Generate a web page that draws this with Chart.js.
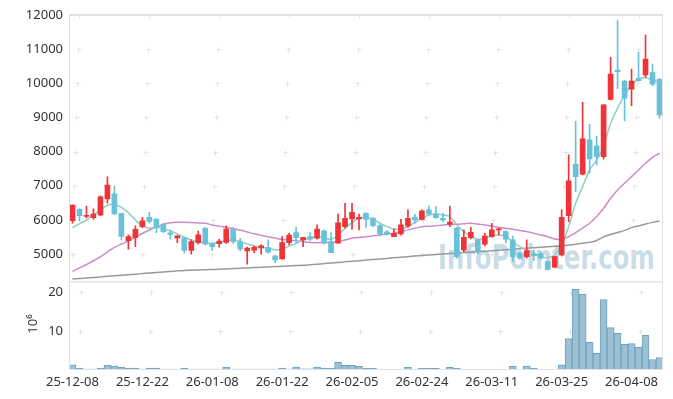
<!DOCTYPE html>
<html>
<head>
<meta charset="utf-8">
<script src="https://cdn.jsdelivr.net/npm/chart.js@4"></script>
<style>
  html, body { margin: 0; padding: 0; background: #fff; }
  canvas { display: block; }
</style>
</head>
<body>
<canvas id="myChart" width="673" height="399"></canvas>
<script>
var dates = ['25-12-08', '25-12-09', '25-12-10', '25-12-11', '25-12-12', '25-12-15', '25-12-16', '25-12-17', '25-12-18', '25-12-19',
    '25-12-22', '25-12-23', '25-12-24', '25-12-26', '25-12-29', '25-12-30', '26-01-02', '26-01-05', '26-01-06', '26-01-07',
    '26-01-08', '26-01-09', '26-01-12', '26-01-13', '26-01-14', '26-01-15', '26-01-16', '26-01-19', '26-01-20', '26-01-21',
    '26-01-22', '26-01-23', '26-01-26', '26-01-27', '26-01-28', '26-01-29', '26-01-30', '26-02-02', '26-02-03', '26-02-04',
    '26-02-05', '26-02-06', '26-02-09', '26-02-10', '26-02-11', '26-02-12', '26-02-13', '26-02-19', '26-02-20', '26-02-23',
    '26-02-24', '26-02-25', '26-02-26', '26-02-27', '26-03-03', '26-03-04', '26-03-05', '26-03-06', '26-03-09', '26-03-10',
    '26-03-11', '26-03-12', '26-03-13', '26-03-16', '26-03-17', '26-03-18', '26-03-19', '26-03-20', '26-03-23', '26-03-24',
    '26-03-25', '26-03-26', '26-03-27', '26-03-30', '26-03-31', '26-04-01', '26-04-02', '26-04-03', '26-04-06', '26-04-07',
    '26-04-08', '26-04-09', '26-04-10', '26-04-13', '26-04-14'];

var openP = [5975, 6310, 6100, 6060, 6140, 6610, 6760, 6190, 5390, 5480,
    5800, 6075, 6020, 5850, 5620, 5470, 5470, 5100, 5330, 5750,
    5310, 5300, 5340, 5720, 5360, 5090, 5110, 5175, 5185, 4940,
    4855, 5330, 5625, 5410, 5505, 5460, 5675, 5360, 5315, 5800,
    6025, 6025, 6190, 6045, 5830, 5645, 5505, 5585, 5820, 6075,
    6015, 6290, 6170, 6045, 5870, 5755, 5115, 5480, 5410, 5285,
    5505, 5705, 5655, 5410, 5020, 4920, 5000, 5000, 4775, 4610,
    4970, 6120, 7635, 7335, 8340, 8165, 7850, 9530, 10390, 10065,
    9825, 10145, 10245, 10310, 10115];
var highP = [6440, 6330, 6400, 6320, 6700, 7260, 6990, 6190, 5560, 5820,
    6075, 6220, 6030, 5900, 5700, 5530, 5480, 5410, 5670, 5780,
    5320, 5430, 5820, 5780, 5460, 5200, 5235, 5265, 5410, 4970,
    5505, 5605, 5780, 5490, 5625, 5850, 5705, 5625, 6170, 6485,
    6485, 6165, 6210, 6075, 5860, 5685, 5725, 6015, 6290, 6170,
    6290, 6405, 6385, 6190, 6405, 5780, 5705, 5780, 5430, 5605,
    5900, 5755, 5685, 5525, 5065, 5410, 5115, 5065, 4790, 4930,
    6290, 7900, 8895, 9445, 8800, 8455, 9365, 10760, 11835, 10095,
    10410, 10910, 11415, 10565, 10145];
var lowP = [5900, 5970, 6050, 6015, 6120, 6490, 6140, 5410, 5140, 5210,
    5770, 5900, 5620, 5620, 5430, 5330, 5020, 4990, 5285, 5265,
    5100, 5200, 5310, 5310, 5090, 4700, 5040, 4990, 5020, 4745,
    4845, 5265, 5345, 5215, 5390, 5430, 5285, 5040, 5315, 5755,
    5725, 5705, 5780, 5800, 5530, 5555, 5505, 5550, 5780, 5900,
    5995, 6115, 6045, 5945, 5800, 4875, 5065, 5440, 4990, 5235,
    5490, 5555, 5330, 4775, 4845, 4875, 4805, 4845, 4530, 4600,
    4940, 5945, 6825, 7315, 7360, 7605, 7775, 9510, 9845, 8895,
    9345, 10065, 10175, 9920, 8975];
var closeP = [6435, 6120, 6130, 6170, 6670, 7020, 6170, 5510, 5510, 5720,
    5970, 5950, 5800, 5650, 5570, 5530, 5100, 5360, 5560, 5290,
    5215, 5380, 5730, 5360, 5145, 5170, 5195, 5235, 5050, 4825,
    5330, 5555, 5480, 5490, 5430, 5725, 5330, 5040, 5910, 6045,
    6220, 6075, 6015, 5830, 5585, 5585, 5605, 5850, 6045, 5995,
    6260, 6170, 6065, 5995, 5935, 4920, 5490, 5635, 5065, 5525,
    5705, 5730, 5430, 4920, 4875, 5095, 4950, 4875, 4550, 4920,
    6075, 7140, 7265, 8370, 7785, 7850, 9365, 10270, 10340, 9560,
    10065, 10075, 10705, 9970, 9070];

var ma5 = [5765, 5890, 5990, 6140, 6290, 6425, 6450, 6365, 6210, 5995,
    5820, 5755, 5780, 5725, 5675, 5585, 5490, 5410, 5360, 5315,
    5313, 5345, 5390, 5410, 5360, 5295, 5235, 5195, 5165, 5120,
    5140, 5235, 5315, 5410, 5460, 5505, 5480, 5430, 5555, 5750,
    5915, 6045, 6075, 6015, 5900, 5800, 5730, 5725, 5800, 5920,
    6045, 6140, 6170, 6140, 6095, 5850, 5655, 5505, 5430, 5460,
    5525, 5555, 5505, 5360, 5215, 5115, 5020, 4920, 4895, 4970,
    5265, 5800, 6485, 6970, 7460, 7750, 8145, 8830, 9265, 9655,
    9950, 10115, 10165, 10095, 10020];
var ma20 = [4490, 4590, 4690, 4800, 4920, 5060, 5190, 5290, 5380, 5490,
    5600, 5700, 5790, 5860, 5915, 5930, 5930, 5920, 5910, 5900,
    5850, 5815, 5780, 5740, 5700, 5645, 5590, 5545, 5505, 5465,
    5430, 5410, 5390, 5360, 5335, 5330, 5330, 5340, 5360, 5410,
    5460, 5485, 5505, 5530, 5555, 5580, 5605, 5655, 5705, 5750,
    5800, 5810, 5825, 5850, 5860, 5870, 5885, 5900, 5875, 5850,
    5815, 5780, 5750, 5720, 5690, 5655, 5605, 5555, 5505, 5440,
    5430, 5505, 5625, 5755, 5900, 6095, 6340, 6630, 6875, 7070,
    7265, 7460, 7655, 7830, 7950];
var ma120 = [4265, 4280, 4296, 4312, 4328, 4344, 4360, 4376, 4392, 4408,
    4424, 4440, 4456, 4472, 4488, 4504, 4518, 4525, 4532, 4538,
    4544, 4550, 4560, 4570, 4580, 4590, 4600, 4610, 4620, 4630,
    4640, 4650, 4658, 4666, 4683, 4700, 4717, 4734, 4751, 4768,
    4785, 4802, 4819, 4836, 4853, 4870, 4887, 4904, 4921, 4938,
    4955, 4969, 4983, 4997, 5011, 5025, 5039, 5053, 5067, 5081,
    5095, 5109, 5123, 5137, 5151, 5165, 5180, 5195, 5210, 5222,
    5235, 5260, 5285, 5312, 5340, 5395, 5500, 5570, 5630, 5690,
    5770, 5820, 5875, 5925, 5965];

// volume, millions of shares
var volume = [1.3, 0.5, 0.25, 0.25, 0.5, 1.2, 1.0, 0.77, 0.5, 0.5,
    0.25, 0.5, 0.5, 0.25, 0.25, 0.08, 0.5, 0.25, 0.25, 0.25,
    0.25, 0.25, 0.77, 0.25, 0.25, 0.25, 0.25, 0.25, 0.25, 0.25,
    0.5, 0.25, 0.77, 0.3, 0.3, 0.77, 0.5, 0.45, 2.0, 1.2,
    1.2, 0.95, 0.45, 0.45, 0.2, 0.06, 0.2, 0.2, 0.7, 0.2,
    0.45, 0.45, 0.45, 0.2, 0.7, 0.45, 0.2, 0.2, 0.2, 0.2,
    0.2, 0.06, 0.2, 1.0, 0.2, 1.0, 0.45, 0.2, 0.2, 0.2,
    1.3, 8.1, 20.7, 19.5, 7.1, 4.3, 18.1, 10.9, 9.4, 6.6,
    6.8, 5.8, 8.9, 2.7, 3.2];

var xTickLabels = ['25-12-08', '25-12-22', '26-01-08', '26-01-22', '26-02-05', '26-02-24', '26-03-11', '26-03-25', '26-04-08'];
var priceTicks = [5000, 6000, 7000, 8000, 9000, 10000, 11000, 12000];
var volTicks = [10, 20];

var UP = '#ee3438';
var DOWN = '#68c1d9';
var candleColors = openP.map(function (o, i) { return closeP[i] >= o ? UP : DOWN; });

var frame = {
    id: 'frame',
    beforeDatasetsDraw: function (chart) {
        var c = chart.ctx;
        var x = chart.scales.x, y = chart.scales.y, yv = chart.scales.yv;
        c.save();
        // watermark
        c.font = 'bold 33px "DejaVu Sans", sans-serif';
        c.fillStyle = 'rgba(165, 198, 216, 0.6)';
        c.textBaseline = 'alphabetic';
        c.fillText('InfoPointer.com', 438, 269, 217);
        // small grid crosses
        c.strokeStyle = '#e3e3e3';
        c.lineWidth = 1;
        var xs = x.ticks.map(function (t, i) { return x.getPixelForTick(i); });
        var ys = y.ticks.map(function (t, i) { return y.getPixelForTick(i); })
            .concat(yv.ticks.map(function (t, i) { return yv.getPixelForTick(i); }));
        c.beginPath();
        xs.forEach(function (px) {
            ys.forEach(function (py) {
                px = Math.round(px) + 0.5; py = Math.round(py) + 0.5;
                c.moveTo(px - 2, py); c.lineTo(px + 3, py);
                c.moveTo(px, py - 2); c.lineTo(px, py + 3);
            });
        });
        c.stroke();
        c.restore();
    },
    afterDraw: function (chart) {
        var c = chart.ctx, a = chart.chartArea;
        var y = chart.scales.y, yv = chart.scales.yv;
        c.save();
        c.strokeStyle = '#e2e2e2';
        c.lineWidth = 1;
        c.strokeRect(a.left + 0.5, y.top + 0.5, a.right - a.left - 1, y.bottom - y.top);
        c.strokeRect(a.left + 0.5, yv.top + 0.5, a.right - a.left - 1, yv.bottom - yv.top - 1);
        c.lineWidth = 2;
        c.beginPath();
        c.moveTo(a.left, y.top); c.lineTo(a.right, y.top);
        c.stroke();
        // unit label of the volume axis
        c.fillStyle = '#333';
        c.font = '13px "Noto Sans", sans-serif';
        c.translate(33, 324);
        c.rotate(-Math.PI / 2);
        c.textAlign = 'center';
        c.textBaseline = 'middle';
        c.fillText('10\u2076', 0, 0);
        c.restore();
    }
};

var tickFont = { family: '"Noto Sans", sans-serif', size: 13 };
var plain = function (v) { return String(v); };

var ctx = document.getElementById('myChart').getContext('2d');
var myChart = new Chart(ctx, {
    type: 'bar',
    data: {
        labels: dates,
        datasets: [{
            label: 'wick',
            data: lowP.map(function (l, i) { return [l, highP[i]]; }),
            backgroundColor: candleColors,
            barThickness: 1,
            grouped: false,
            yAxisID: 'y',
            order: 1
        }, {
            label: 'body',
            data: openP.map(function (o, i) { return [o, closeP[i]]; }),
            backgroundColor: candleColors,
            barThickness: 5,
            minBarLength: 1,
            grouped: false,
            yAxisID: 'y',
            order: 0
        }, {
            type: 'line',
            label: 'MA5',
            data: ma5,
            borderColor: '#8fcfc2',
            borderWidth: 1.5,
            pointRadius: 0,
            tension: 0.4,
            yAxisID: 'y',
            order: 3
        }, {
            type: 'line',
            label: 'MA20',
            data: ma20,
            borderColor: '#cd8cc6',
            borderWidth: 1.5,
            pointRadius: 0,
            tension: 0.4,
            yAxisID: 'y',
            order: 3
        }, {
            type: 'line',
            label: 'MA120',
            data: ma120,
            borderColor: '#9a9a9a',
            borderWidth: 1.5,
            pointRadius: 0,
            tension: 0.4,
            yAxisID: 'y',
            order: 3
        }, {
            label: 'volume',
            data: volume,
            backgroundColor: '#9dc1d3',
            borderColor: '#6aa2c2',
            borderWidth: 1,
            barPercentage: 1,
            categoryPercentage: 1,
            grouped: false,
            yAxisID: 'yv',
            order: 2
        }]
    },
    options: {
        responsive: false,
        animation: false,
        layout: { padding: { top: 15, right: 10, left: 0, bottom: 0 } },
        plugins: { legend: { display: false }, tooltip: { enabled: false } },
        scales: {
            x: {
                grid: { display: false, drawTicks: false },
                border: { display: false },
                ticks: { autoSkip: false, maxRotation: 0, color: '#333', font: tickFont, padding: 4 },
                afterBuildTicks: function (s) {
                    s.ticks = s.ticks.filter(function (t) { return xTickLabels.indexOf(dates[t.value]) >= 0; });
                },
                afterFit: function (s) { s.height = 29; }
            },
            y: {
                position: 'left',
                stack: 'panels',
                stackWeight: 3,
                weight: 2,
                min: 4200,
                max: 12000,
                grid: { display: false, drawTicks: false },
                border: { display: false },
                ticks: { autoSkip: false, color: '#333', font: tickFont, padding: 6, callback: plain },
                afterBuildTicks: function (s) { s.ticks = priceTicks.map(function (v) { return { value: v }; }); },
                afterFit: function (s) { s.width = 69; }
            },
            yv: {
                position: 'left',
                stack: 'panels',
                stackWeight: 1,
                weight: 1,
                min: 0,
                max: 22.8,
                grid: { display: false, drawTicks: false },
                border: { display: false },
                ticks: { autoSkip: false, color: '#333', font: tickFont, padding: 6, callback: plain },
                afterBuildTicks: function (s) { s.ticks = volTicks.map(function (v) { return { value: v }; }); },
                afterFit: function (s) { s.width = 69; }
            }
        }
    },
    plugins: [frame]
});
</script>
</body>
</html>
